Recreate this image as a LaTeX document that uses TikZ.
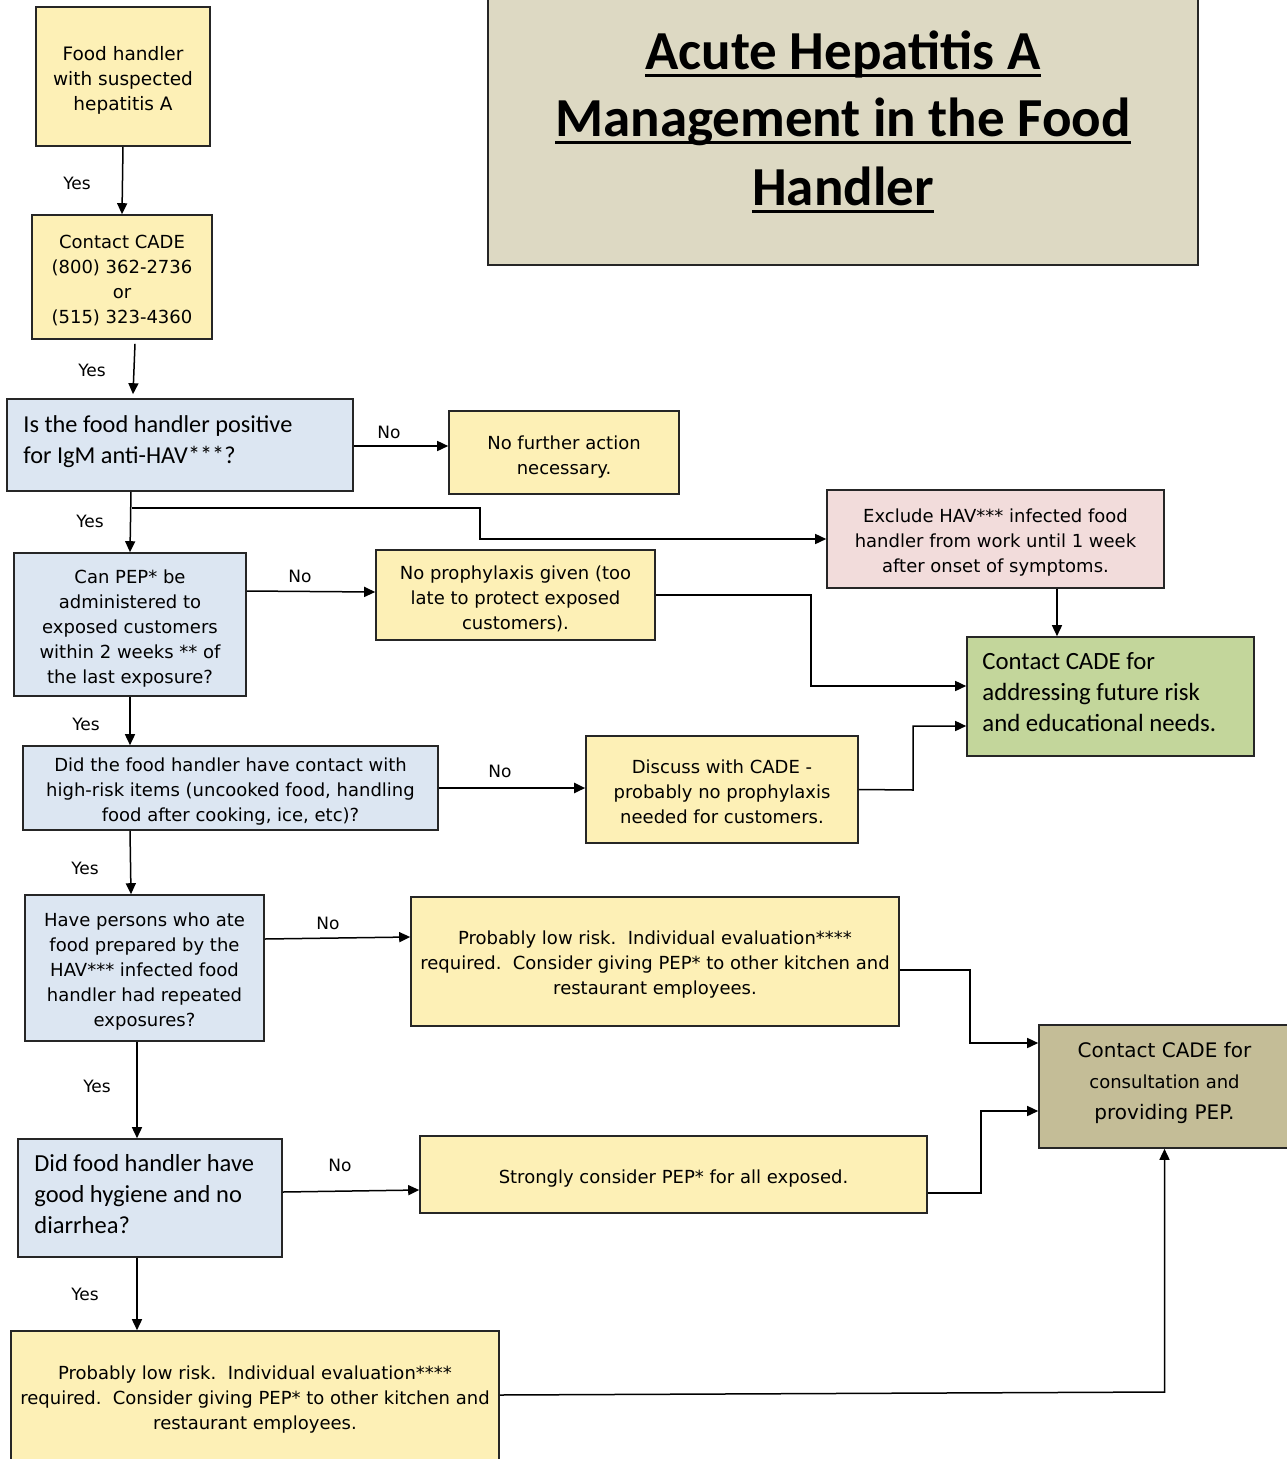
\documentclass[tikz,border=0pt]{standalone}
\usepackage{fontspec}
\setmainfont{DejaVu Sans}
\newfontfamily\calfont{Carlito}
\usetikzlibrary{arrows.meta,calc}
\definecolor{yel}{HTML}{FDF0B6}
\definecolor{blu}{HTML}{DCE6F2}
\definecolor{pnk}{HTML}{F2DCDB}
\definecolor{grn}{HTML}{C3D69B}
\definecolor{tan}{HTML}{DDD9C3}
\definecolor{kha}{HTML}{C4BD97}
\begin{document}
\begin{tikzpicture}[x=1pt,y=-1pt,
  box/.style={draw=black!85, line width=1.6pt, inner sep=0pt},
  txt/.style={inner sep=0pt, align=center},
  lab/.style={font=\fontsize{17}{20}\selectfont, inner sep=0pt},
  arr/.style={line width=1.5pt, -{Triangle[length=11pt,width=10pt]}},
  ttl/.style={font=\calfont\bfseries\fontsize{55}{67}\selectfont, inner sep=0pt, anchor=base},
  ul/.style={line width=3pt},
  fa/.style={txt, font=\fontsize{18.5}{25}\selectfont},
  fb/.style={txt, font=\fontsize{18}{25}\selectfont},
  cb/.style={inner sep=0pt, anchor=west, font=\calfont\fontsize{#1}{31}\selectfont, align=flush left}]
\useasboundingbox (0,0) rectangle (1286,1459);

% title
\node[box, fill=tan, minimum width=710pt, minimum height=270pt] (n5) at (843,130) {};
\node[ttl] (t1) at (843,69) {Acute Hepatitis A};
\node[ttl] (t2) at (843,136) {Management in the Food};
\node[ttl] (t3) at (843,205) {Handler};
\draw[ul] ($(t1.base west)+(0,6)$) -- ($(t1.base east)+(0,6)$);
\draw[ul] ($(t2.base west)+(0,6)$) -- ($(t2.base east)+(0,6)$);
\draw[ul] ($(t3.base west)+(0,6)$) -- ($(t3.base east)+(0,6)$);

% boxes
\node[box, fill=yel, minimum width=174pt, minimum height=139pt] (n1) at (123,76.5) {};
\node[fa] (n1t) at ($(n1.center)+(0,4)$) {Food handler\\with suspected\\hepatitis A};

\node[box, fill=yel, minimum width=180pt, minimum height=124pt] (n2) at (122,277) {};
\node[fb] (n2t) at ($(n2.center)+(0,3.5)$) {Contact CADE\\(800) 362-2736\\or\\(515) 323-4360};

\node[box, fill=blu, minimum width=346pt, minimum height=92pt] (n3) at (180,445) {};
\node[cb=24.3, text width=312pt] (n3t) at ($(n3.west)+(17,-3.5)$) {Is the food handler positive\\for IgM anti-HAV***?};

\node[box, fill=yel, minimum width=230pt, minimum height=83pt] (n4) at (564,452.5) {};
\node[fb] (n4t) at ($(n4.center)+(0,4.5)$) {No further action\\necessary.};

\node[box, fill=pnk, minimum width=337pt, minimum height=98pt] (n6) at (995.5,539) {};
\node[fb] (n6t) at ($(n6.center)+(0,4)$) {Exclude HAV*** infected food\\handler from work until 1 week\\after onset of symptoms.};

\node[box, fill=blu, minimum width=232pt, minimum height=143pt] (n7) at (130,624.5) {};
\node[fb] (n7t) at ($(n7.center)+(0,4)$) {Can PEP* be\\administered to\\exposed customers\\within 2 weeks ** of\\the last exposure?};

\node[box, fill=yel, minimum width=279pt, minimum height=90pt] (n8) at (515.5,595) {};
\node[fb] (n8t) at ($(n8.center)+(0,3.5)$) {No prophylaxis given (too\\late to protect exposed\\customers).};

\node[box, fill=grn, minimum width=287pt, minimum height=119pt] (n9) at (1110.5,696.5) {};
\node[cb=24.8, text width=255pt] (n9t) at ($(n9.west)+(16,-4)$) {Contact CADE for\\addressing future risk\\and educational needs.};

\node[box, fill=blu, minimum width=415pt, minimum height=84pt] (n10) at (230.5,788) {};
\node[fb] (n10t) at ($(n10.center)+(0,4)$) {Did the food handler have contact with\\high-risk items (uncooked food, handling\\food after cooking, ice, etc)?};

\node[box, fill=yel, minimum width=272pt, minimum height=107pt] (n11) at (722,789.5) {};
\node[fb] (n11t) at ($(n11.center)+(0,2)$) {Discuss with CADE -\\probably no prophylaxis\\needed for customers.};

\node[box, fill=blu, minimum width=239pt, minimum height=146pt] (n12) at (144.5,968) {};
\node[fb] (n12t) at ($(n12.center)+(0,4)$) {Have persons who ate\\food prepared by the\\HAV*** infected food\\handler had repeated\\exposures?};

\node[box, fill=yel, minimum width=488pt, minimum height=129pt] (n13) at (655,961.5) {};
\node[fb] (n13t) at ($(n13.center)+(0,3.5)$) {Probably low risk.\ \ Individual evaluation****\\required.\ \ Consider giving PEP* to other kitchen and\\restaurant employees.};

\node[box, fill=kha, minimum width=251pt, minimum height=123pt] (n14) at (1164.5,1086.5) {};
\node[txt, font=\fontsize{20}{31}\selectfont] (n14t) at ($(n14.center)+(0,-4)$) {Contact CADE for\\{\fontsize{18}{31}\selectfont consultation and}\\providing PEP.};

\node[box, fill=blu, minimum width=264pt, minimum height=118pt] (n15) at (150,1198) {};
\node[cb=24.5, text width=230pt] (n15t) at ($(n15.west)+(17,-3.5)$) {Did food handler have\\good hygiene and no\\diarrhea?};

\node[box, fill=yel, minimum width=507pt, minimum height=77pt] (n16) at (673.5,1174.5) {};
\node[fb] (n16t) at ($(n16.center)+(0,4)$) {Strongly consider PEP* for all exposed.};

\node[box, fill=yel, minimum width=488pt, minimum height=139pt] (n17) at (255,1400.5) {};
\node[fb] (n17t) at ($(n17.center)+(0,-1)$) {Probably low risk.\ \ Individual evaluation****\\required.\ \ Consider giving PEP* to other kitchen and\\restaurant employees.};

% connectors
\draw[arr] (n1.south) -- (n2.north);
\node[lab] (y1) at (77,183) {Yes};
\draw[arr] ($(n2.south)+(13,4)$) -- ($(n3.north)+(-47,-4)$);
\node[lab] (y2) at (92,370) {Yes};
\draw[arr] (n3.east |- 0,446) -- (n4.west |- 0,446);
\node[lab] (no1) at (389,432) {No};
\draw[arr] ($(n3.south)+(-49,0)$) -- (n7.north);
\node[lab] (y3) at (90,521) {Yes};
\coordinate (j1) at (132,508);
\draw[arr] (j1) -- (480,508) |- (n6.west);
\draw[arr] (n7.east |- 0,591) -- (n8.west |- 0,592);
\node[lab] (no2) at (300,576) {No};
\draw[arr] (n8.east) -- (811,595) |- (n9.west |- 0,686);
\draw[arr] (n6.south -| 1057,0) -- (n9.north -| 1057,0);
\draw[arr] (n11.east) -- (913,790) |- (n9.west |- 0,726);
\draw[arr] (n7.south) -- (n10.north -| n7.south);
\node[lab] (y4) at (86,724) {Yes};
\draw[arr, line width=2.2pt] (n10.east) -- (n11.west |- n10.east);
\node[lab] (no3) at (500,771) {No};
\draw[arr] (n10.south -| 130,0) -- (n12.north -| 131,0);
\node[lab] (y5) at (85,868) {Yes};
\draw[arr] (n12.east |- 0,939) -- (n13.west |- 0,937);
\node[lab] (no4) at (328,923) {No};
\draw[arr] (n13.east |- 0,970) -- (970,970) |- (n14.west |- 0,1043);
\draw[arr] (n12.south -| 137,0) -- (n15.north -| 137,0);
\node[lab] (y6) at (97,1086) {Yes};
\draw[arr] (n15.east |- 0,1192) -- (n16.west |- 0,1190);
\node[lab] (no5) at (340,1165) {No};
\draw[arr] (n16.east |- 0,1193) -- (981,1193) |- (n14.west |- 0,1111);
\draw[arr] (n15.south -| 137,0) -- (n17.north -| 137,0);
\node[lab] (y7) at (85,1294) {Yes};
\draw[arr] (n17.east |- 0,1395) -- (n14.south |- 0,1392) -- (n14.south);
\end{tikzpicture}
\end{document}
